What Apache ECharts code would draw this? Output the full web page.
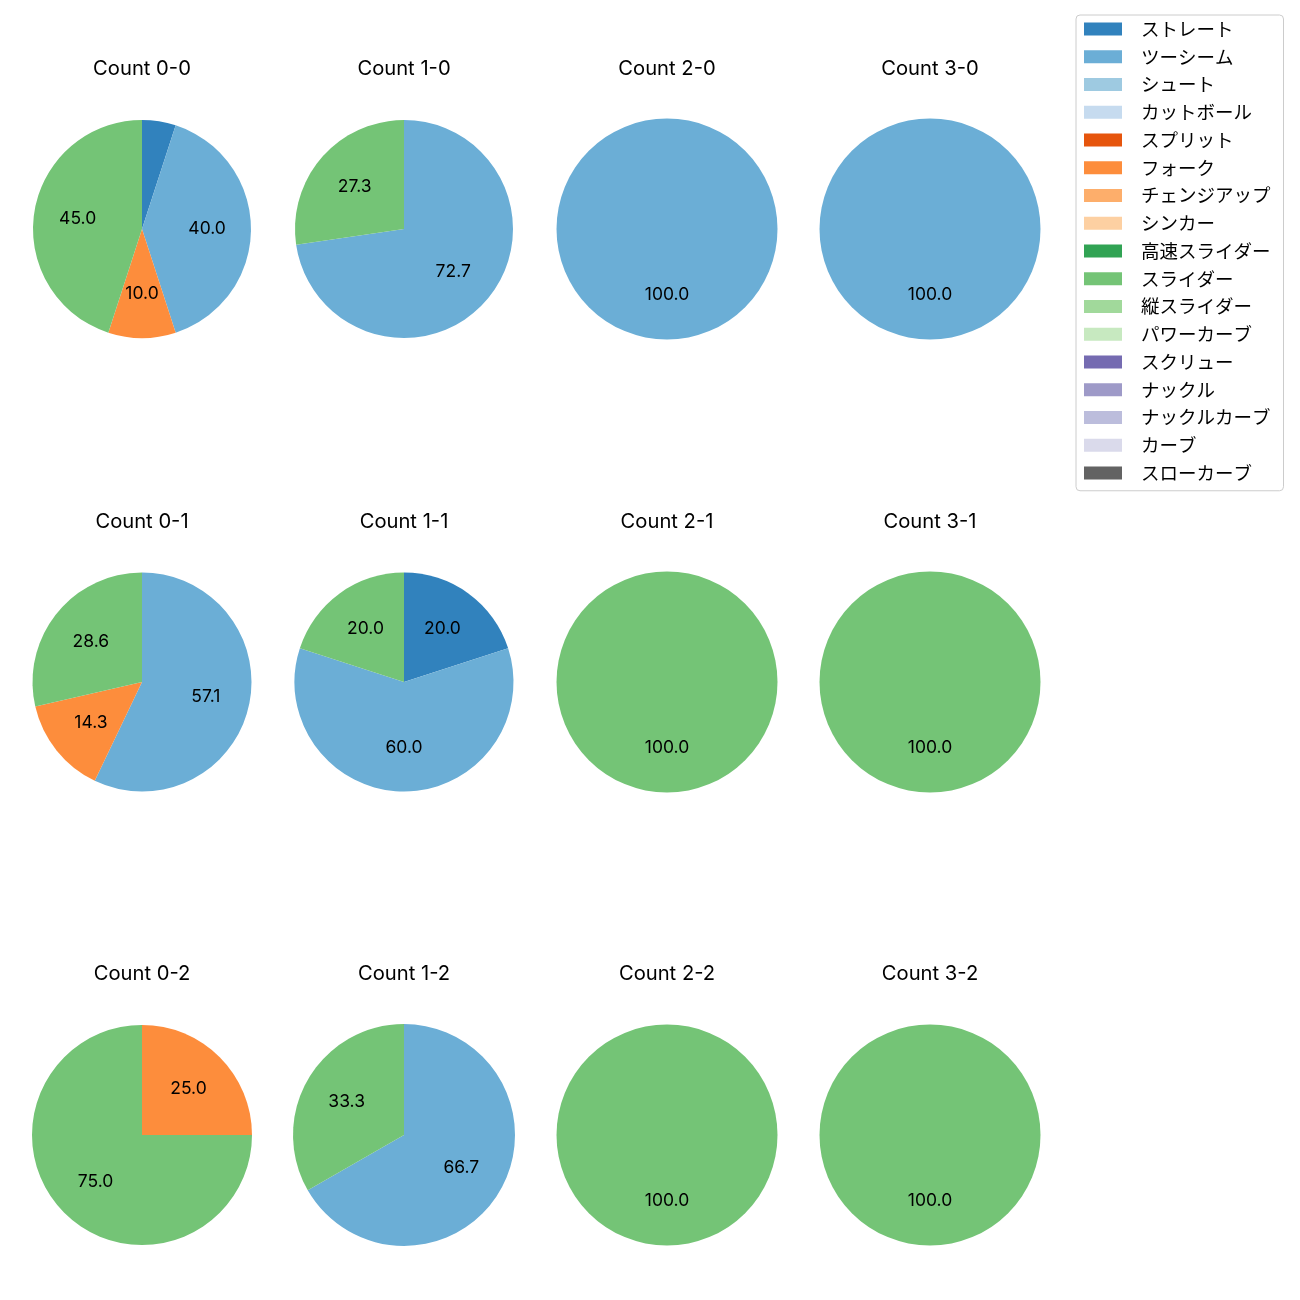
<!DOCTYPE html>
<html>
<head>
<meta charset="utf-8">
<script src="https://cdn.jsdelivr.net/npm/echarts@6/dist/echarts.min.js"></script>
<style>
html,body{margin:0;padding:0;background:#fff;}
#chart{width:1300px;height:1300px;}
</style>
</head>
<body>
<div id="chart"></div>
<script>
const pitchTypes = ['ストレート','ツーシーム','シュート','カットボール','スプリット','フォーク','チェンジアップ','シンカー','高速スライダー','スライダー','縦スライダー','パワーカーブ','スクリュー','ナックル','ナックルカーブ','カーブ','スローカーブ'];
const pitchColors = ['#3182bd','#6baed6','#9ecae1','#c6dbef','#e6550d','#fd8d3c','#fdae6b','#fdd0a2','#31a354','#74c476','#a1d99b','#c7e9c0','#756bb1','#9e9ac8','#bcbddc','#dadaeb','#636363'];

const countTitles = ['Count 0-0','Count 1-0','Count 2-0','Count 3-0',
                     'Count 0-1','Count 1-1','Count 2-1','Count 3-1',
                     'Count 0-2','Count 1-2','Count 2-2','Count 3-2'];

// share (%) per pitch type, in pitchTypes order
const count00 = [5,40,0,0,0,10,0,0,0,45,0,0,0,0,0,0,0];
const count10 = [0,72.7,0,0,0,0,0,0,0,27.3,0,0,0,0,0,0,0];
const count20 = [0,100,0,0,0,0,0,0,0,0,0,0,0,0,0,0,0];
const count30 = [0,100,0,0,0,0,0,0,0,0,0,0,0,0,0,0,0];
const count01 = [0,57.1,0,0,0,14.3,0,0,0,28.6,0,0,0,0,0,0,0];
const count11 = [20,60,0,0,0,0,0,0,0,20,0,0,0,0,0,0,0];
const count21 = [0,0,0,0,0,0,0,0,0,100,0,0,0,0,0,0,0];
const count31 = [0,0,0,0,0,0,0,0,0,100,0,0,0,0,0,0,0];
const count02 = [0,0,0,0,0,25,0,0,0,75,0,0,0,0,0,0,0];
const count12 = [0,66.7,0,0,0,0,0,0,0,33.3,0,0,0,0,0,0,0];
const count22 = [0,0,0,0,0,0,0,0,0,100,0,0,0,0,0,0,0];
const count32 = [0,0,0,0,0,0,0,0,0,100,0,0,0,0,0,0,0];
const allCounts = [count00,count10,count20,count30,count01,count11,count21,count31,count02,count12,count22,count32];

const colX = [142, 404, 667, 930];
const rowY = [229, 682, 1135];
const titleY = [59, 512, 964];
const radii = [109,109,110.5,110.5, 109.5,109.5,110.5,110.5, 110,111,110.5,110.5];

const LATIN = 'Inter, "Noto Sans CJK JP"';
const CJK = '"Noto Sans CJK JP"';
const series = [];
const titles = [];
allCounts.forEach((vals, i) => {
  const col = i % 4, row = Math.floor(i / 4);
  const r = radii[i];
  const data = [];
  vals.forEach((v, k) => {
    if (v > 0) data.push({name: pitchTypes[k], value: v, itemStyle: {color: pitchColors[k]}});
  });
  titles.push({
    text: countTitles[i], left: colX[col], top: titleY[row], textAlign: 'center', padding: 0,
    textStyle: {fontFamily: LATIN, fontSize: 20.2, fontWeight: 'normal', color: '#000'}
  });
  series.push({
    type: 'pie', center: [colX[col], rowY[row]], radius: [0, r],
    startAngle: 90, clockwise: true, silent: true, animation: false,
    label: {show: false}, labelLine: {show: false}, data: data,
    emphasis: {disabled: true}
  });
  series.push({
    type: 'pie', center: [colX[col], rowY[row]], radius: [0.14 * r, r],
    startAngle: 90, clockwise: true, silent: true, animation: false,
    itemStyle: {color: 'rgba(0,0,0,0)'},
    label: {show: true, position: 'inside', fontFamily: LATIN, fontSize: 17.5, color: '#000',
      formatter: p => p.value >= 6 ? p.value.toFixed(1) : ''},
    labelLine: {show: false},
    emphasis: {disabled: true},
    data: data.map(d => ({name: d.name, value: d.value, itemStyle: {color: 'rgba(0,0,0,0)'}}))
  });
});
// legend provider: all pitch types
series.push({
  type: 'pie', center: [-500, -500], radius: [0, 1], silent: true, animation: false,
  label: {show: false}, labelLine: {show: false},
  data: pitchTypes.map((n, k) => ({name: n, value: 1, itemStyle: {color: pitchColors[k]}}))
});

const chart = echarts.init(document.getElementById('chart'), null, {renderer: 'canvas'});
chart.setOption({
  animation: false,
  title: titles,
  legend: {
    orient: 'vertical', left: 1076, top: 15,
    data: pitchTypes, selectedMode: false,
    itemWidth: 38, itemHeight: 13, itemGap: 0,
    icon: 'rect',
    padding: [0, 13, 4, 8],
    borderColor: '#cccccc', borderWidth: 1, borderRadius: 4,
    textStyle: {fontFamily: CJK, fontSize: 18.5, color: '#000', lineHeight: 27.75, padding: [0, 0, 0, 14]}
  },
  series: series
});
</script>
</body>
</html>
